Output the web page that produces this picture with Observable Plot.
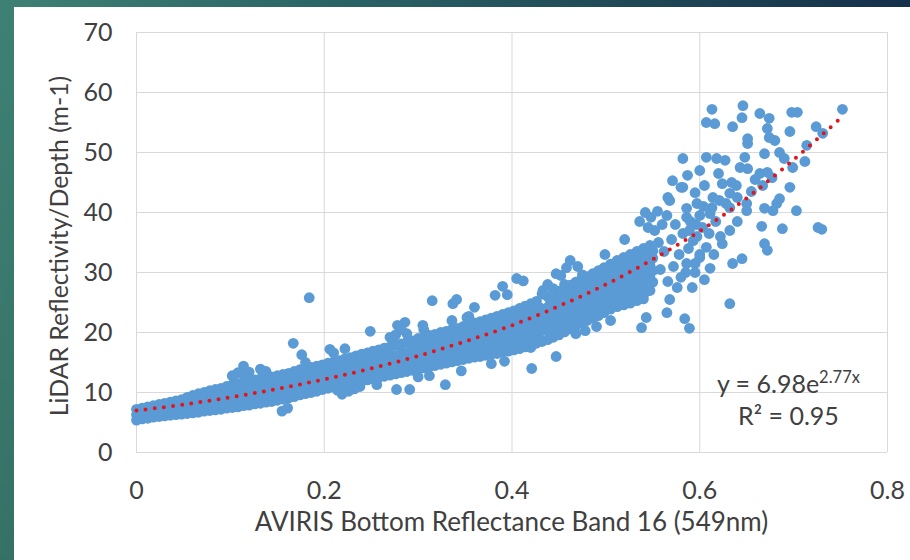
<!DOCTYPE html>
<html>
<head>
<meta charset="utf-8">
<script src="https://cdn.jsdelivr.net/npm/d3@7"></script>
<script src="https://cdn.jsdelivr.net/npm/@observablehq/plot@0.6"></script>
<style>
  html, body { margin: 0; padding: 0; }
  body {
    width: 910px; height: 560px; overflow: hidden; position: relative;
    background:
      linear-gradient(to bottom, rgba(0,0,0,0) 0%, rgba(0,0,0,0.12) 100%),
      linear-gradient(90deg, #3e8174 0%, #2c6566 35%, #1f4856 70%, #15304a 100%);
  }
  #panel { position: absolute; left: 14px; top: 7px; width: 896px; height: 553px; background: #fff; }
</style>
</head>
<body>
<div id="panel"></div>
<script>
// Dense band of overlapping samples: [reflectance, lidar values...]
const bandColumns = [
  [0.000, 5.4, 6.3, 7.2],
  [0.006, 5.6, 6.5, 7.4],
  [0.012, 5.7, 6.7, 7.6],
  [0.018, 5.9, 6.9, 7.8],
  [0.024, 6.0, 7.0, 8.0],
  [0.030, 6.1, 7.2, 8.2],
  [0.036, 6.2, 7.3, 8.4],
  [0.042, 6.3, 7.5, 8.6],
  [0.048, 6.4, 7.6, 8.8],
  [0.054, 6.5, 7.7, 8.9, 9.2],
  [0.060, 6.6, 7.8, 9.0, 9.5],
  [0.066, 6.7, 8.0, 9.2, 9.8],
  [0.072, 6.9, 8.1, 9.3, 10.0],
  [0.078, 7.0, 8.2, 9.5, 10.3],
  [0.084, 7.1, 8.4, 9.6, 10.5],
  [0.090, 7.2, 8.5, 9.8, 10.7],
  [0.096, 7.4, 8.6, 9.9, 11.0],
  [0.102, 7.5, 8.8, 10.1, 11.3, 12.8],
  [0.108, 7.6, 9.0, 10.3, 11.5, 13.3],
  [0.114, 7.8, 9.1, 10.4, 11.7, 13.0, 14.4],
  [0.120, 7.9, 9.3, 10.6, 11.9, 13.4],
  [0.126, 8.1, 9.4, 10.8, 12.1],
  [0.132, 8.2, 9.6, 11.0, 12.3, 13.9],
  [0.138, 8.4, 9.8, 11.1, 12.4, 13.5],
  [0.144, 8.5, 9.9, 11.3, 12.6],
  [0.150, 8.7, 10.1, 11.5, 12.8],
  [0.156, 8.9, 10.3, 11.7, 13.0],
  [0.162, 9.1, 10.5, 11.9, 13.2],
  [0.168, 9.3, 10.7, 12.1, 13.5],
  [0.174, 9.6, 11.0, 12.4, 13.8],
  [0.180, 9.8, 11.2, 12.6, 14.0, 15.0],
  [0.186, 10.0, 11.4, 12.8, 14.2],
  [0.192, 10.2, 11.6, 13.0, 14.4],
  [0.198, 10.5, 11.9, 13.2, 14.6],
  [0.204, 10.7, 12.1, 13.5, 14.9],
  [0.210, 10.9, 12.3, 13.7, 15.1, 16.6],
  [0.216, 11.1, 12.5, 13.9, 15.3],
  [0.222, 11.3, 12.7, 14.2, 15.6, 17.3],
  [0.228, 11.5, 12.9, 14.4, 15.8],
  [0.234, 11.7, 13.2, 14.6, 16.1],
  [0.240, 11.9, 13.4, 14.9, 16.4],
  [0.246, 12.1, 13.6, 15.1, 16.6],
  [0.252, 12.3, 13.8, 15.3, 16.9],
  [0.258, 12.5, 14.0, 15.6, 17.1],
  [0.264, 12.7, 14.2, 15.8, 17.4],
  [0.270, 12.9, 14.4, 16.0, 17.6, 19.2],
  [0.276, 13.1, 14.6, 16.2, 17.9, 19.6],
  [0.282, 13.3, 14.9, 16.5, 18.1, 20.5],
  [0.288, 13.5, 15.1, 16.7, 18.4, 19.8],
  [0.294, 13.7, 14.9, 16.1, 17.4, 18.6],
  [0.300, 13.9, 15.2, 16.4, 17.7, 19.0],
  [0.306, 14.1, 15.4, 16.6, 17.9, 19.2, 20.5],
  [0.312, 14.3, 15.6, 16.9, 18.2, 19.5],
  [0.318, 14.5, 15.8, 17.1, 18.4, 19.7],
  [0.324, 14.7, 16.0, 17.3, 18.7, 20.0],
  [0.330, 14.9, 16.2, 17.5, 18.9, 20.2],
  [0.336, 15.1, 16.4, 17.8, 19.1, 20.5, 22.0],
  [0.342, 15.3, 16.6, 18.0, 19.3, 20.7],
  [0.348, 15.5, 16.9, 18.2, 19.6, 21.0],
  [0.354, 15.7, 17.1, 18.5, 19.9, 21.3, 22.7],
  [0.360, 15.9, 17.3, 18.7, 20.2, 21.6],
  [0.366, 16.0, 17.4, 18.9, 20.3, 21.8],
  [0.372, 16.2, 17.7, 19.1, 20.6, 22.1],
  [0.378, 16.4, 17.9, 19.4, 20.9, 22.4],
  [0.381, 17.2, 18.8, 20.3, 21.9],
  [0.384, 16.5, 18.0, 19.6, 21.1, 22.7],
  [0.390, 16.7, 18.3, 19.8, 21.4, 23.0],
  [0.393, 17.6, 19.2, 20.8, 22.4],
  [0.396, 16.9, 18.5, 20.1, 21.7, 23.3],
  [0.402, 17.1, 18.7, 20.3, 22.0, 23.6],
  [0.405, 18.0, 19.7, 21.3, 23.0],
  [0.408, 17.3, 19.0, 20.6, 22.3, 24.0],
  [0.414, 17.6, 19.3, 21.0, 22.7, 24.4],
  [0.417, 18.4, 20.1, 21.8, 23.6],
  [0.420, 17.5, 19.6, 21.3, 23.1, 24.8],
  [0.426, 18.2, 19.9, 21.7, 23.4, 25.2],
  [0.429, 18.9, 20.6, 22.4, 24.2],
  [0.432, 18.5, 20.3, 22.0, 23.8, 26.4],
  [0.438, 18.8, 20.6, 22.4, 24.2, 26.0],
  [0.441, 19.4, 21.2, 23.0, 24.9],
  [0.444, 19.2, 21.0, 22.8, 24.7, 27.3],
  [0.447, 20.3, 22.1, 23.9, 25.8],
  [0.450, 19.6, 21.4, 23.2, 25.1, 26.9],
  [0.453, 20.7, 22.5, 24.4, 26.2],
  [0.456, 20.1, 21.9, 23.7, 25.6, 28.0],
  [0.459, 21.2, 23.0, 24.9, 26.7],
  [0.462, 20.6, 22.4, 24.2, 26.1, 27.9],
  [0.465, 21.7, 23.5, 25.4, 27.2],
  [0.468, 21.1, 22.9, 24.7, 26.6, 28.4],
  [0.471, 22.2, 24.0, 25.9, 27.7],
  [0.474, 21.6, 23.4, 25.2, 27.1, 28.9],
  [0.477, 22.6, 24.5, 26.3, 28.2],
  [0.480, 22.0, 23.8, 25.6, 27.5, 29.3],
  [0.483, 23.0, 24.9, 26.8, 28.6],
  [0.486, 22.4, 24.3, 26.1, 28.0, 29.8],
  [0.489, 23.5, 25.3, 27.2, 29.1],
  [0.492, 22.8, 24.7, 26.6, 28.4, 30.3],
  [0.495, 23.9, 25.8, 27.6, 29.5],
  [0.498, 23.3, 25.2, 27.0, 28.9, 30.8],
  [0.501, 24.5, 26.4, 28.2, 30.1],
  [0.505, 23.9, 25.8, 27.6, 29.5, 31.4],
  [0.508, 25.0, 26.9, 28.8, 30.7],
  [0.512, 24.3, 26.2, 28.1, 30.0, 32.0],
  [0.515, 25.4, 27.4, 29.3, 31.2],
  [0.519, 24.6, 26.6, 28.5, 30.5, 32.5],
  [0.522, 25.7, 27.8, 29.8, 31.7],
  [0.526, 24.9, 26.9, 29.0, 31.0, 33.0],
  [0.529, 26.1, 28.1, 30.2, 32.2],
  [0.533, 25.3, 27.3, 29.4, 31.5, 33.5],
  [0.536, 26.4, 28.5, 30.6, 32.7],
  [0.540, 25.6, 27.7, 29.8, 31.9, 34.0],
  [0.543, 26.8, 28.9, 31.0, 33.1],
  [0.547, 27.0, 29.1, 31.2, 32.4, 34.5],
  [0.550, 28.4, 30.3, 32.4, 33.6]
];

// Scattered samples: [reflectance, lidar]
const scatterPoints = [
  [0.155, 6.9], [0.161, 7.4], [0.167, 18.2], [0.176, 16.3], [0.184, 25.8],
  [0.206, 17.2], [0.219, 9.7], [0.249, 20.2], [0.277, 10.5], [0.278, 21.2],
  [0.286, 21.7], [0.291, 10.5], [0.305, 21.2], [0.315, 25.3], [0.329, 11.3],
  [0.337, 24.8], [0.341, 25.5], [0.352, 22.5], [0.360, 24.2], [0.382, 26.2],
  [0.390, 27.7], [0.395, 26.3], [0.405, 29.0], [0.412, 28.6], [0.421, 14.0],
  [0.433, 27.0], [0.447, 29.8], [0.447, 16.0], [0.462, 32.0], [0.499, 33.0],
  [0.520, 35.5], [0.538, 20.8], [0.543, 22.5], [0.565, 23.3], [0.584, 22.3],
  [0.589, 20.7],
  [0.214, 10.4], [0.226, 10.2], [0.232, 10.6], [0.238, 11.0], [0.256, 11.3],
  [0.300, 12.6], [0.312, 12.8], [0.346, 13.6], [0.378, 14.8], [0.392, 15.2],
  [0.468, 19.8], [0.478, 20.3], [0.490, 21.0], [0.505, 22.0],
  [0.438, 28.0], [0.452, 29.5], [0.458, 30.8], [0.470, 31.0], [0.475, 29.6],
  [0.536, 38.5], [0.542, 40.0], [0.548, 39.2], [0.555, 40.2], [0.560, 38.0],
  [0.545, 37.5], [0.565, 39.5], [0.552, 37.0], [0.566, 42.5], [0.571, 45.3],
  [0.580, 44.2], [0.568, 42.0],
  [0.556, 35.0], [0.558, 30.5], [0.562, 33.5], [0.566, 28.5], [0.568, 25.5],
  [0.570, 35.5], [0.572, 31.0], [0.574, 38.0], [0.576, 27.5], [0.578, 33.0],
  [0.582, 36.5], [0.585, 30.0], [0.588, 34.0], [0.590, 38.5], [0.592, 27.5],
  [0.595, 31.5], [0.597, 36.0], [0.600, 33.0],
  [0.613, 57.2], [0.646, 57.8], [0.607, 55.0], [0.616, 54.8], [0.635, 54.3],
  [0.664, 56.5], [0.674, 55.7], [0.698, 56.7], [0.704, 56.7], [0.645, 55.8],
  [0.672, 54.0], [0.674, 52.5], [0.680, 52.0], [0.696, 53.5], [0.651, 52.3],
  [0.651, 51.5], [0.724, 54.3], [0.731, 53.2], [0.752, 57.2], [0.685, 50.0],
  [0.669, 49.8], [0.714, 51.2], [0.690, 49.0], [0.699, 47.5], [0.712, 48.5],
  [0.582, 49.0], [0.607, 49.2], [0.618, 49.0], [0.627, 48.7], [0.648, 49.2],
  [0.643, 47.5], [0.651, 47.3], [0.664, 46.5], [0.672, 46.7], [0.677, 45.8],
  [0.587, 46.2], [0.582, 44.2], [0.605, 44.5], [0.624, 44.8], [0.634, 45.0],
  [0.639, 44.5], [0.667, 44.5], [0.696, 44.2], [0.595, 43.3], [0.586, 40.7],
  [0.597, 41.5], [0.614, 42.5], [0.621, 42.0], [0.613, 40.8], [0.632, 43.2],
  [0.640, 42.5], [0.650, 41.5], [0.586, 39.2], [0.600, 39.5], [0.611, 39.8],
  [0.632, 40.8], [0.650, 40.3], [0.669, 40.7], [0.678, 40.3], [0.685, 42.3],
  [0.682, 41.5], [0.703, 40.3], [0.666, 37.7], [0.688, 37.3], [0.726, 37.5],
  [0.730, 37.2], [0.589, 37.0], [0.603, 37.5], [0.632, 37.0], [0.624, 34.8],
  [0.593, 35.3], [0.607, 34.2], [0.600, 32.5], [0.669, 34.8], [0.672, 33.7],
  [0.635, 31.5], [0.645, 32.3], [0.586, 31.5], [0.595, 30.0], [0.611, 30.7],
  [0.580, 29.2], [0.605, 28.8], [0.632, 24.8],
  [0.596, 38.0], [0.604, 41.0], [0.617, 38.5], [0.622, 36.0], [0.628, 41.5],
  [0.610, 36.5], [0.615, 33.0], [0.640, 38.5], [0.655, 43.5], [0.659, 45.5],
  [0.620, 46.5], [0.600, 47.0]
];

// Exponential trendline read along its dotted path
const trendX = [0, 0.05, 0.10, 0.15, 0.20, 0.25, 0.30, 0.35, 0.40, 0.45, 0.50, 0.55, 0.60, 0.65, 0.70, 0.75];
const trendY = [6.98, 8.0, 9.2, 10.6, 12.2, 14.0, 16.1, 18.5, 21.2, 24.4, 28.0, 32.2, 36.9, 42.4, 48.8, 55.7];

const xTicks = [0, 0.2, 0.4, 0.6, 0.8];
const yTicks = [0, 10, 20, 30, 40, 50, 60, 70];
const xTitle = "AVIRIS Bottom Reflectance Band 16 (549nm)";
const yTitle = "LiDAR Reflectivity/Depth (m-1)";
const equationMain = "y = 6.98e";
const equationExp = "2.77x";
const rSquared = "R² = 0.95";
const equationPos = [0.695, 9.8];
const rSquaredPos = [0.695, 4.5];

const points = bandColumns
  .flatMap(([x, ...ys]) => ys.map(y => ({x, y})))
  .concat(scatterPoints.map(([x, y]) => ({x, y})));
const trend = trendX.map((x, i) => ({x, y: trendY[i]}));

const FONT = "Lato, 'Open Sans', sans-serif";
const W = 896, H = 553;
const chart = Plot.plot({
  width: W, height: H,
  marginLeft: 122, marginRight: 23, marginTop: 25, marginBottom: 108,
  x: {domain: [0, 0.8]},
  y: {domain: [0, 70]},
  style: {fontFamily: FONT, background: "white", color: "#404040", overflow: "visible"},
  marks: [
    Plot.gridX(xTicks, {stroke: "#d9d9d9", strokeOpacity: 1, strokeWidth: 1}),
    Plot.gridY(yTicks, {stroke: "#d9d9d9", strokeOpacity: 1, strokeWidth: 1}),
    Plot.axisX(xTicks, {tickSize: 0, tickPadding: 29, label: null, fontSize: 25, fill: "#404040",
      tickFormat: d => d === 0 ? "0" : String(d)}),
    Plot.axisY(yTicks, {tickSize: 0, tickPadding: 24, label: null, fontSize: 25, fill: "#404040"}),
    Plot.dot(points, {x: "x", y: "y", r: 5.4, fill: "#5b9bd5"}),
    Plot.line(trend, {x: "x", y: "y", stroke: "#e3141b", strokeWidth: 4, strokeDasharray: "0 9.2", strokeLinecap: "round", curve: "catmull-rom"})
  ]
});
document.getElementById("panel").appendChild(chart);

const svg = d3.select(chart);
const sx = chart.scale("x"), sy = chart.scale("y");
svg.append("text")
  .attr("x", (122 + W - 23) / 2).attr("y", 524)
  .attr("text-anchor", "middle").attr("font-family", FONT).attr("font-size", 26).attr("fill", "#404040")
  .text(xTitle);
svg.append("text")
  .attr("transform", `translate(54,${(25 + H - 108) / 2 + 4}) rotate(-90)`)
  .attr("text-anchor", "middle").attr("font-family", FONT).attr("font-size", 24.8).attr("fill", "#404040")
  .text(yTitle);
const eq = svg.append("text")
  .attr("x", sx.apply(equationPos[0])).attr("y", sy.apply(equationPos[1]))
  .attr("text-anchor", "middle").attr("font-family", FONT).attr("font-size", 25).attr("fill", "#404040");
eq.append("tspan").text(equationMain);
eq.append("tspan").attr("font-size", 16.5).attr("dy", -10).text(equationExp);
svg.append("text")
  .attr("x", sx.apply(rSquaredPos[0])).attr("y", sy.apply(rSquaredPos[1]))
  .attr("text-anchor", "middle").attr("font-family", FONT).attr("font-size", 25).attr("fill", "#404040")
  .text(rSquared);
</script>
</body>
</html>
